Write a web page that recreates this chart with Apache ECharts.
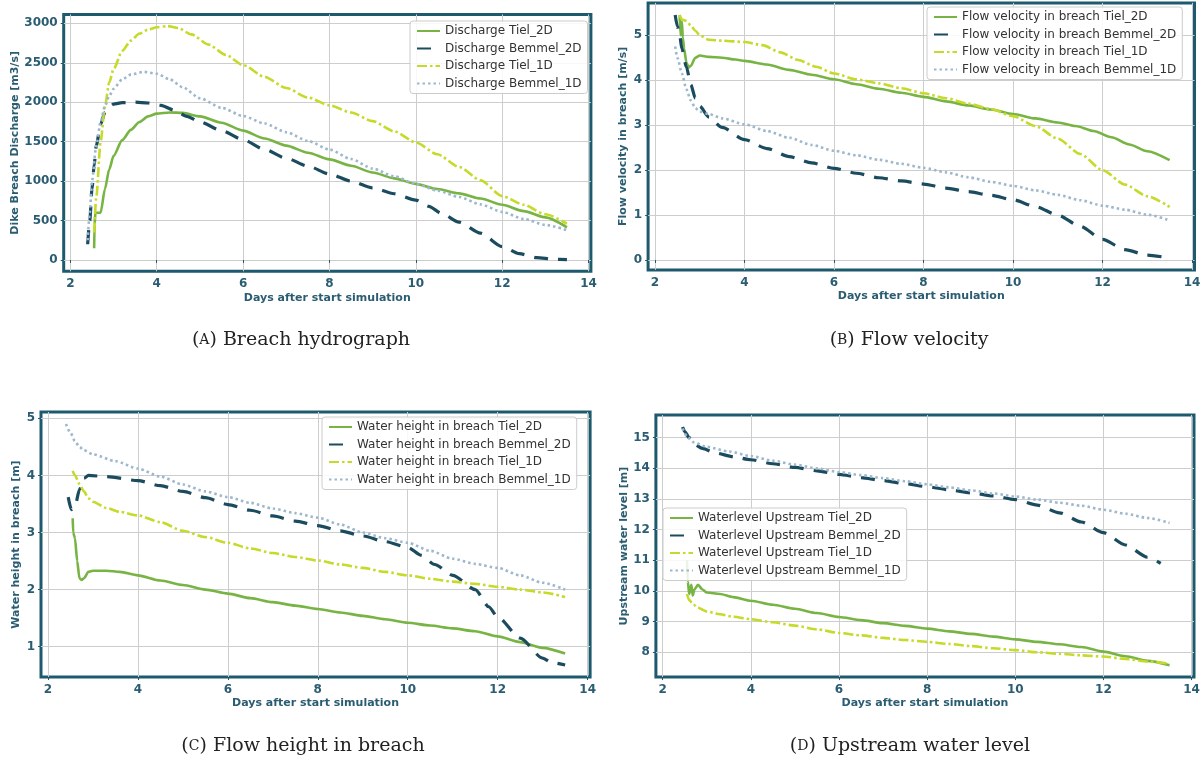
<!DOCTYPE html>
<html>
<head>
<meta charset="utf-8">
<script src="https://cdn.jsdelivr.net/npm/echarts@6/dist/echarts.min.js"></script>
<style>
html,body{margin:0;padding:0;background:#fff;}
#chart{width:1204px;height:760px;}
</style>
</head>
<body>
<div id="chart"></div>
<script>
// ---- data (x = days after start simulation) ----
var dayTicks = [2, 4, 6, 8, 10, 12, 14];

// (A) breach hydrograph [m3/s]
var dischargeTicks = [0, 500, 1000, 1500, 2000, 2500, 3000];
var dischargeTiel2D = [[2.55,150],[2.56,450],[2.58,600],[2.7,600],[2.8,900],[2.9,1150],[3.0,1320],[3.2,1520],[3.4,1650],[3.6,1750],[3.8,1820],[4.0,1855],[4.3,1870],[4.6,1865],[5.0,1820],[5.5,1740],[6.0,1640],[6.5,1540],[7.0,1450],[7.5,1360],[8.0,1275],[8.5,1195],[9.0,1110],[9.5,1035],[10.0,965],[10.5,900],[11.0,845],[11.5,780],[12.0,700],[12.5,620],[13.0,540],[13.5,415]];
var dischargeBemmel2D = [[2.4,200],[2.45,500],[2.5,900],[2.55,1200],[2.6,1450],[2.7,1720],[2.8,1870],[2.9,1940],[3.0,1975],[3.2,1995],[3.5,2000],[3.8,1990],[4.1,1960],[4.4,1900],[4.7,1820],[5.0,1750],[5.5,1640],[6.0,1525],[6.5,1400],[7.0,1290],[7.5,1190],[8.0,1090],[8.5,1000],[9.0,915],[9.5,840],[10.0,760],[10.3,680],[10.6,590],[11.0,480],[11.5,340],[12.0,170],[12.4,80],[12.8,30],[13.2,10],[13.5,5]];
var dischargeTiel1D = [[2.55,350],[2.6,800],[2.7,1500],[2.8,1950],[2.9,2250],[3.0,2420],[3.2,2650],[3.4,2780],[3.6,2870],[3.8,2920],[4.0,2950],[4.25,2965],[4.5,2940],[4.8,2860],[5.2,2730],[5.6,2600],[6.0,2470],[6.5,2320],[7.0,2180],[7.5,2060],[8.0,1960],[8.5,1870],[9.0,1760],[9.5,1630],[10.0,1490],[10.5,1340],[11.0,1180],[11.5,1010],[12.0,810],[12.5,700],[13.0,580],[13.5,460]];
var dischargeBemmel1D = [[2.4,250],[2.45,600],[2.5,1000],[2.6,1450],[2.7,1750],[2.8,1950],[2.9,2080],[3.0,2170],[3.2,2290],[3.4,2350],[3.7,2385],[4.0,2360],[4.3,2290],[4.6,2190],[5.0,2050],[5.5,1930],[6.0,1825],[6.5,1730],[7.0,1620],[7.5,1510],[8.0,1400],[8.5,1280],[9.0,1160],[9.5,1060],[10.0,965],[10.5,880],[11.0,800],[11.5,705],[12.0,610],[12.5,520],[13.0,445],[13.5,378]];

// (B) flow velocity [m/s]
var velocityTicks = [0, 1, 2, 3, 4, 5];
var velocityTiel2D = [[2.55,5.45],[2.57,5.0],[2.6,5.3],[2.62,4.95],[2.65,4.7],[2.7,4.4],[2.75,4.28],[2.8,4.32],[2.9,4.5],[3.0,4.55],[3.2,4.52],[3.5,4.5],[3.8,4.46],[4.0,4.43],[4.5,4.35],[5.0,4.23],[5.5,4.12],[6.0,4.02],[6.5,3.91],[7.0,3.81],[7.5,3.72],[8.0,3.63],[8.5,3.53],[9.0,3.44],[9.5,3.35],[10.0,3.25],[10.5,3.15],[11.0,3.06],[11.4,2.98],[11.8,2.87],[12.2,2.73],[12.6,2.57],[13.0,2.42],[13.5,2.22]];
var velocityBemmel2D = [[2.45,5.45],[2.5,5.2],[2.55,5.0],[2.6,4.7],[2.7,4.3],[2.8,3.9],[2.9,3.6],[3.0,3.42],[3.2,3.18],[3.5,2.95],[4.0,2.68],[4.5,2.48],[5.0,2.3],[5.5,2.16],[6.0,2.04],[6.5,1.93],[7.0,1.83],[7.5,1.76],[8.0,1.69],[8.5,1.6],[9.0,1.52],[9.5,1.44],[10.0,1.34],[10.5,1.19],[11.0,1.0],[11.5,0.75],[12.0,0.46],[12.5,0.23],[13.0,0.11],[13.4,0.06]];
var velocityTiel1D = [[2.55,5.45],[2.6,5.35],[2.7,5.32],[2.8,5.22],[2.9,5.1],[3.0,5.0],[3.2,4.9],[3.5,4.88],[4.0,4.85],[4.4,4.78],[4.8,4.62],[5.2,4.45],[5.6,4.3],[6.0,4.15],[6.5,4.02],[7.0,3.93],[7.5,3.82],[8.0,3.71],[8.5,3.6],[9.0,3.48],[9.5,3.36],[10.0,3.2],[10.5,2.98],[11.0,2.7],[11.5,2.36],[12.0,2.0],[12.5,1.68],[13.0,1.42],[13.5,1.18]];
var velocityBemmel1D = [[2.45,4.75],[2.5,4.5],[2.6,4.15],[2.7,3.8],[2.8,3.55],[2.9,3.38],[3.0,3.3],[3.2,3.25],[3.5,3.15],[4.0,3.02],[4.5,2.87],[5.0,2.72],[5.5,2.56],[6.0,2.43],[6.5,2.33],[7.0,2.23],[7.5,2.14],[8.0,2.05],[8.5,1.95],[9.0,1.84],[9.5,1.74],[10.0,1.65],[10.5,1.55],[11.0,1.45],[11.5,1.33],[12.0,1.21],[12.5,1.12],[13.0,1.01],[13.5,0.88]];

// (C) water height in breach [m]
var heightTicks = [1, 2, 3, 4, 5];
var heightTiel2D = [[2.55,3.25],[2.56,3.0],[2.58,2.95],[2.6,2.9],[2.65,2.5],[2.7,2.2],[2.75,2.17],[2.8,2.2],[2.9,2.31],[3.0,2.33],[3.3,2.33],[3.6,2.31],[4.0,2.25],[4.5,2.16],[5.0,2.08],[5.5,2.0],[6.0,1.93],[6.5,1.85],[7.0,1.78],[7.5,1.72],[8.0,1.66],[8.5,1.6],[9.0,1.54],[9.5,1.48],[10.0,1.42],[10.5,1.37],[11.0,1.32],[11.5,1.27],[12.0,1.18],[12.5,1.08],[13.0,0.98],[13.5,0.88]];
var heightBemmel2D = [[2.45,3.62],[2.52,3.4],[2.6,3.45],[2.7,3.75],[2.8,3.95],[2.9,4.0],[3.3,3.98],[4.0,3.91],[4.5,3.82],[5.0,3.72],[5.5,3.61],[6.0,3.49],[6.5,3.39],[7.0,3.29],[7.5,3.2],[8.0,3.12],[8.5,3.03],[9.0,2.94],[9.5,2.84],[10.0,2.74],[10.3,2.6],[10.6,2.44],[11.0,2.25],[11.5,2.0],[11.8,1.7],[12.0,1.52],[12.5,1.15],[13.0,0.8],[13.2,0.72],[13.5,0.68]];
var heightTiel1D = [[2.55,4.08],[2.6,4.0],[2.7,3.85],[2.8,3.72],[2.9,3.6],[3.0,3.54],[3.3,3.43],[3.6,3.36],[4.0,3.3],[4.5,3.18],[5.0,3.03],[5.5,2.92],[6.0,2.82],[6.5,2.72],[7.0,2.64],[7.5,2.57],[8.0,2.51],[8.5,2.44],[9.0,2.38],[9.5,2.31],[10.0,2.25],[10.5,2.19],[11.0,2.14],[11.5,2.1],[12.0,2.05],[12.5,2.0],[13.0,1.95],[13.5,1.87]];
var heightBemmel1D = [[2.4,4.9],[2.5,4.75],[2.6,4.6],[2.7,4.5],[2.8,4.44],[3.0,4.37],[3.5,4.25],[4.0,4.12],[4.5,3.98],[5.0,3.84],[5.5,3.72],[6.0,3.62],[6.5,3.52],[7.0,3.42],[7.5,3.34],[8.0,3.26],[8.5,3.14],[9.0,3.0],[9.5,2.9],[10.0,2.82],[10.5,2.68],[11.0,2.54],[11.5,2.45],[12.0,2.38],[12.5,2.25],[13.0,2.12],[13.5,2.0]];

// (D) upstream water level [m]
var levelTicks = [8, 9, 10, 11, 12, 13, 14, 15];
var levelTiel2D = [[2.55,11.0],[2.57,10.3],[2.6,9.9],[2.65,10.2],[2.68,9.85],[2.72,10.05],[2.8,10.2],[2.9,10.05],[3.0,9.95],[3.3,9.9],[3.6,9.8],[4.0,9.68],[4.5,9.55],[5.0,9.42],[5.5,9.28],[6.0,9.15],[6.5,9.05],[7.0,8.95],[7.5,8.86],[8.0,8.77],[8.5,8.68],[9.0,8.6],[9.5,8.51],[10.0,8.42],[10.5,8.34],[11.0,8.26],[11.5,8.17],[12.0,8.02],[12.5,7.87],[13.0,7.72],[13.5,7.58]];
var levelBemmel2D = [[2.45,15.35],[2.5,15.2],[2.6,15.0],[2.7,14.8],[2.9,14.65],[3.2,14.5],[3.6,14.38],[4.0,14.28],[4.5,14.15],[5.0,14.03],[5.5,13.92],[6.0,13.8],[6.5,13.7],[7.0,13.6],[7.5,13.5],[8.0,13.4],[8.5,13.3],[9.0,13.2],[9.5,13.1],[10.0,12.98],[10.5,12.8],[11.0,12.55],[11.5,12.25],[12.0,11.9],[12.5,11.5],[13.0,11.1],[13.3,10.9]];
var levelTiel1D = [[2.55,9.9],[2.6,9.7],[2.7,9.55],[2.8,9.45],[3.0,9.33],[3.3,9.24],[3.6,9.16],[4.0,9.08],[4.5,8.98],[5.0,8.87],[5.5,8.75],[6.0,8.63],[6.5,8.55],[7.0,8.47],[7.5,8.4],[8.0,8.34],[8.5,8.27],[9.0,8.2],[9.5,8.13],[10.0,8.07],[10.5,8.0],[11.0,7.95],[11.5,7.9],[12.0,7.86],[12.5,7.78],[13.0,7.7],[13.5,7.63]];
var levelBemmel1D = [[2.45,15.3],[2.55,15.05],[2.7,14.85],[3.0,14.7],[3.5,14.55],[4.0,14.4],[4.5,14.25],[5.0,14.12],[5.5,14.0],[6.0,13.88],[6.5,13.78],[7.0,13.68],[7.5,13.58],[8.0,13.48],[8.5,13.38],[9.0,13.28],[9.5,13.18],[10.0,13.08],[10.5,12.98],[11.0,12.88],[11.5,12.78],[12.0,12.65],[12.5,12.52],[13.0,12.38],[13.5,12.22]];

// ---- styling ----
var frameColor = '#1d5a6e';
var textColor = '#2a5c72';
var lineStyles = [
  {color: '#78b444', type: 'solid', width: 2.6},
  {color: '#1b4b5f', type: [14, 10], width: 3.2},
  {color: '#c6da2a', type: [10, 3, 2.5, 3], width: 2.6},
  {color: '#9db7cd', type: [2.5, 3], width: 2.6}
];

var panels = [
  {grid: {left: 63.7, top: 14.4, width: 527.2, height: 256.9}, y: [-143, 3113], yTicks: dischargeTicks,
   yName: 'Dike Breach Discharge [m3/s]', yGap: 38, legend: {left: 410, top: 21},
   names: ['Discharge Tiel_2D', 'Discharge Bemmel_2D', 'Discharge Tiel_1D', 'Discharge Bemmel_1D'],
   data: [dischargeTiel2D, dischargeBemmel2D, dischargeTiel1D, dischargeBemmel1D]},
  {grid: {left: 648.1, top: 2.9, width: 546.4, height: 267.0}, y: [-0.22, 5.72], yTicks: velocityTicks,
   yName: 'Flow velocity in breach [m/s]', yGap: 19, legend: {left: 927, top: 7},
   names: ['Flow velocity in breach Tiel_2D', 'Flow velocity in breach Bemmel_2D', 'Flow velocity in breach Tiel_1D', 'Flow velocity in breach Bemmel_1D'],
   data: [velocityTiel2D, velocityBemmel2D, velocityTiel1D, velocityBemmel1D]},
  {grid: {left: 41.0, top: 412.0, width: 549.1, height: 265.0}, y: [0.469, 5.111], yTicks: heightTicks,
   yName: 'Water height in breach [m]', yGap: 19, legend: {left: 322, top: 417},
   names: ['Water height in breach Tiel_2D', 'Water height in breach Bemmel_2D', 'Water height in breach Tiel_1D', 'Water height in breach Bemmel_1D'],
   data: [heightTiel2D, heightBemmel2D, heightTiel1D, heightBemmel1D]},
  {grid: {left: 655.9, top: 415.0, width: 538.1, height: 262.1}, y: [7.19, 15.74], yTicks: levelTicks,
   yName: 'Upstream water level [m]', yGap: 26, legend: {left: 663, top: 508},
   names: ['Waterlevel Upstream Tiel_2D', 'Waterlevel Upstream Bemmel_2D', 'Waterlevel Upstream Tiel_1D', 'Waterlevel Upstream Bemmel_1D'],
   data: [levelTiel2D, levelBemmel2D, levelTiel1D, levelBemmel1D]}
];

var captions = [
  {x: 301, y: 340, tag: 'A', text: 'Breach hydrograph'},
  {x: 909, y: 340, tag: 'B', text: 'Flow velocity'},
  {x: 303, y: 746, tag: 'C', text: 'Flow height in breach'},
  {x: 910, y: 746, tag: 'D', text: 'Upstream water level'}
];

var labelFont = {color: textColor, fontWeight: 'bold', fontSize: 12, fontFamily: 'DejaVu Sans'};
var nameFont = {color: textColor, fontWeight: 'bold', fontSize: 11, fontFamily: 'DejaVu Sans'};

var option = {
  backgroundColor: '#fff',
  animation: false,
  grid: [], xAxis: [], yAxis: [], series: [], legend: [], graphic: []
};

panels.forEach(function (p, i) {
  option.grid.push(Object.assign({show: true, borderColor: frameColor, borderWidth: 3, backgroundColor: '#fff'}, p.grid));
  option.xAxis.push({
    type: 'value', gridIndex: i, min: 1.845, max: 14.055,
    axisLine: {show: false},
    axisTick: {show: true, length: 3, customValues: dayTicks, lineStyle: {color: frameColor}},
    axisLabel: Object.assign({customValues: dayTicks, margin: 7, formatter: function (v) { return String(v); }}, labelFont),
    splitLine: {show: true, lineStyle: {color: '#cdcdcd', width: 1}},
    name: 'Days after start simulation', nameLocation: 'middle', nameGap: 21, nameTextStyle: nameFont
  });
  option.yAxis.push({
    type: 'value', gridIndex: i, min: p.y[0], max: p.y[1],
    axisLine: {show: false},
    axisTick: {show: true, length: 3, customValues: p.yTicks, lineStyle: {color: frameColor}},
    axisLabel: Object.assign({customValues: p.yTicks, margin: 6, formatter: function (v) { return String(v); }}, labelFont),
    splitLine: {show: true, lineStyle: {color: '#cdcdcd', width: 1}},
    name: p.yName, nameLocation: 'middle', nameGap: p.yGap, nameTextStyle: nameFont
  });
  p.data.forEach(function (d, k) {
    option.series.push({
      type: 'line', name: p.names[k], xAxisIndex: i, yAxisIndex: i, data: d,
      symbol: 'none', showSymbol: false, smooth: 0.25, smoothMonotone: 'x',
      lineStyle: lineStyles[k], itemStyle: {color: lineStyles[k].color}, z: 2 + k
    });
  });
  option.legend.push({
    orient: 'vertical', left: p.legend.left, top: p.legend.top,
    data: p.names, itemWidth: 23, itemHeight: 12, itemGap: 5.5,
    itemStyle: {opacity: 0},
    backgroundColor: 'rgba(255,255,255,0.85)', borderColor: '#cccccc', borderWidth: 1, borderRadius: 3,
    padding: [4, 6, 4, 6], selectedMode: false,
    textStyle: {color: '#333', fontSize: 12, fontFamily: 'DejaVu Sans'}
  });
});

captions.forEach(function (c) {
  option.graphic.push({
    type: 'text', x: c.x, y: c.y,
    style: {
      text: '(' + '{sc|' + c.tag + '}' + ') ' + c.text,
      fill: '#222', fontSize: 19, fontFamily: 'DejaVu Serif',
      align: 'center', verticalAlign: 'middle',
      rich: {sc: {fontSize: 14, fontFamily: 'DejaVu Serif', fill: '#222'}}
    }
  });
});

var myChart = echarts.init(document.getElementById('chart'));
myChart.setOption(option);
</script>
</body>
</html>
